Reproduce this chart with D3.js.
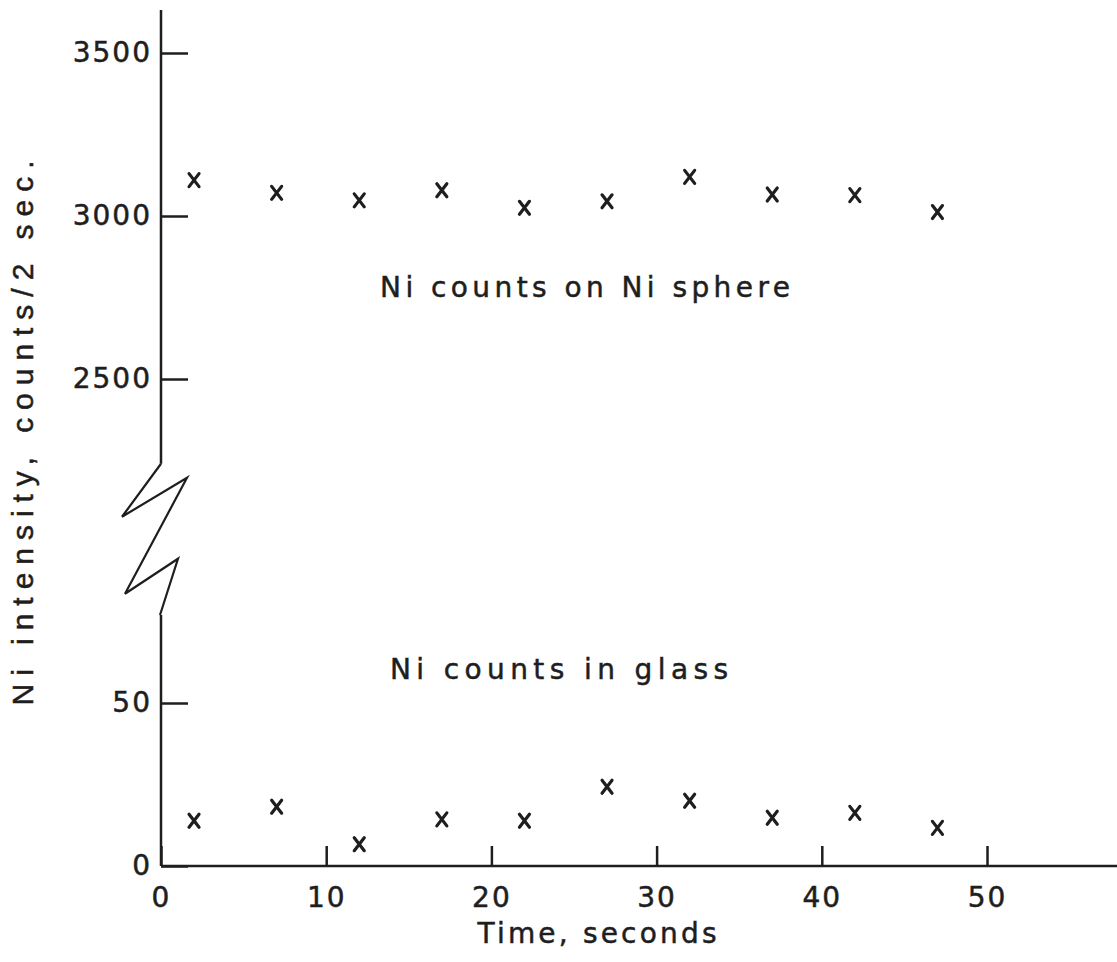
<!DOCTYPE html>
<html lang="en">
<head>
    <meta charset="UTF-8">
    <title>Ni intensity</title>
    <style>
        body { margin: 0; background: #fff; }
        text { font-family: "DejaVu Sans", sans-serif; fill: #1e1e1e; stroke: #1e1e1e; stroke-width: 0.5px; }
    </style>
</head>
<body></body>
<script src="https://cdn.jsdelivr.net/npm/d3@7"></script>
<script>
    const times = [2, 7, 12, 17, 22, 27, 32, 37, 42, 47];
    const sphereCounts = [3110, 3071, 3048, 3079, 3025, 3045, 3120, 3066, 3064, 3012];
    const glassCounts = [13.9, 18.2, 6.7, 14.3, 13.9, 24.3, 20.0, 14.8, 16.3, 11.7];
    const xTicks = [0, 10, 20, 30, 40, 50];
    const topTicks = [2500, 3000, 3500];
    const bottomTicks = [0, 50];

    let width = 1117;
    let height = 962;
    let ink = "#1e1e1e";

    let svg = d3.select("body")
                .append("svg")
                .attr("width", width)
                .attr("height", height);

    const x = d3.scaleLinear().domain([0, 50]).range([161, 987]);
    const yTop = d3.scaleLinear().domain([2500, 3500]).range([379, 53]);
    const yBot = d3.scaleLinear().domain([0, 50]).range([866, 703]);

    const axisX = x(0);
    const breakTop = yTop(2240);
    const breakBot = yBot(77);

    // y axis lines (two pieces with a break)
    svg.append("line")
        .attr("x1", axisX).attr("x2", axisX)
        .attr("y1", yTop(3632)).attr("y2", breakTop)
        .attr("stroke", ink).attr("stroke-width", 2.5);
    svg.append("line")
        .attr("x1", axisX).attr("x2", axisX)
        .attr("y1", breakBot).attr("y2", yBot(0))
        .attr("stroke", ink).attr("stroke-width", 2.5);

    // zigzag break symbol
    const zig = [
        [0, breakTop], [-39, breakTop + 53], [26, breakTop + 14],
        [-36, breakTop + 130], [17, breakTop + 95], [-1, breakBot]
    ].map(p => [axisX + p[0], p[1]]);
    svg.append("path")
        .attr("d", d3.line()(zig))
        .attr("fill", "none")
        .attr("stroke", ink)
        .attr("stroke-width", 2.2);

    // x axis line runs off the right edge
    svg.append("line")
        .attr("x1", axisX).attr("x2", x(58))
        .attr("y1", yBot(0)).attr("y2", yBot(0))
        .attr("stroke", ink).attr("stroke-width", 2.5);

    function styleAxis(g) {
        g.select(".domain").remove();
        g.selectAll(".tick line").attr("stroke", ink).attr("stroke-width", 2.5);
        g.selectAll(".tick text")
            .attr("fill", ink)
            .style("font-family", "'DejaVu Sans', sans-serif")
            .style("font-size", "28px")
            .style("letter-spacing", "2px");
    }

    svg.append("g")
        .attr("transform", `translate(${axisX},0)`)
        .call(d3.axisLeft(yTop).tickValues(topTicks).tickSize(-27).tickPadding(9).tickFormat(d3.format("d")))
        .call(styleAxis);

    svg.append("g")
        .attr("transform", `translate(${axisX},0)`)
        .call(d3.axisLeft(yBot).tickValues(bottomTicks).tickSize(-27).tickPadding(9).tickFormat(d3.format("d")))
        .call(styleAxis);

    svg.append("g")
        .attr("transform", `translate(0,${yBot(0)})`)
        .call(d3.axisBottom(x).tickValues(xTicks).tickSize(-20).tickPadding(21).tickFormat(d3.format("d")))
        .call(styleAxis);

    // x marks
    const cross = "M-5,-6.5L5,6.5M-5,6.5L5,-6.5";
    function drawMarks(vals, yScale) {
        svg.append("g")
            .selectAll("path")
            .data(times.map((t, i) => [t, vals[i]]))
            .enter().append("path")
            .attr("transform", d => `translate(${x(d[0])},${yScale(d[1])})`)
            .attr("d", cross)
            .attr("stroke", ink)
            .attr("stroke-width", 3.2)
            .attr("stroke-linecap", "round");
    }
    drawMarks(sphereCounts, yTop);
    drawMarks(glassCounts, yBot);

    // labels
    function label(txt, px, py, len, size, font, rotate) {
        let t = svg.append("text")
            .attr("x", px).attr("y", py)
            .attr("text-anchor", "middle")
            .attr("textLength", len)
            .attr("lengthAdjust", "spacing")
            .style("font-size", size + "px")
            .style("font-family", font)
            .text(txt);
        if (rotate) t.attr("transform", `rotate(-90,${px},${py})`);
        return t;
    }
    label("Ni counts on Ni sphere", 585, 297, 410, 28, "'DejaVu Sans', sans-serif");
    label("Ni counts in glass", 559, 679, 338, 28, "'DejaVu Sans', sans-serif");
    label("Time, seconds", 597, 943, 239, 28, "'DejaVu Sans', sans-serif");
    label("Ni intensity, counts/2 sec.", 33, 433, 545, 30, "'Liberation Sans', Arial, sans-serif", true);
</script>
</html>
